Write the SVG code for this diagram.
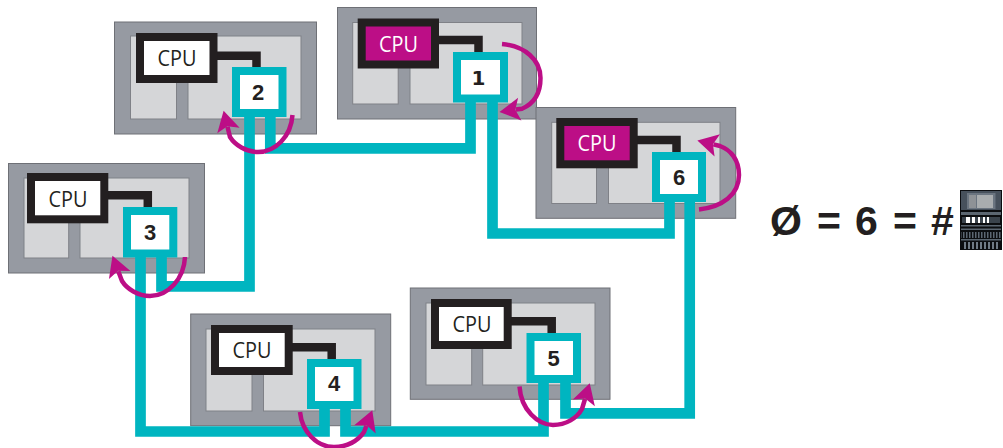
<svg xmlns="http://www.w3.org/2000/svg" width="1003" height="448" viewBox="0 0 1003 448">
<style>
.outer{fill:#969aa2;stroke:#6e7076;stroke-width:1}
.panel{fill:#d5d6d8;stroke:#7f8187;stroke-width:1}
.link{fill:none;stroke:#231f20;stroke-width:8.5;stroke-linejoin:miter}
.cpu{fill:#fff;stroke:#231f20;stroke-width:8}
.cpu.on{fill:#bc0e86}
.port{fill:#fff;stroke:#00b5c0;stroke-width:8}
.lbl{font:21.5px "Open Sans",sans-serif;fill:#231f20;text-anchor:middle}
.lbl.on{fill:#fff}
.num{font:bold 22px "Liberation Sans",Arial,sans-serif;fill:#231f20;text-anchor:middle}
.wire{fill:none;stroke:#00b5c0;stroke-width:10.7;stroke-linejoin:miter}
.arc{fill:none;stroke:#bc0e86;stroke-width:4.5;marker-end:url(#head)}
.eq{font:bold 41px "Liberation Sans",Arial,sans-serif;fill:#231f20}
</style>
<defs>
<marker id="head" markerUnits="userSpaceOnUse" viewBox="-1 -13 24 26" refX="4" refY="0" markerWidth="24" markerHeight="26" orient="auto">
<path d="M0,-11.5 L20.5,0 L0,11.5 L4.5,0 Z" fill="#bc0e86"/>
</marker>
<pattern id="hatch" width="3" height="10" patternUnits="userSpaceOnUse"><rect width="1.5" height="10" fill="#5b6671"/></pattern>
<pattern id="hatch2" width="4" height="10" patternUnits="userSpaceOnUse"><rect width="2" height="10" fill="#6f7a85"/></pattern>
</defs>

<g id="node-1">
<rect class="outer" x="337.5" y="7.5" width="199" height="111.5"/>
<rect class="panel" x="352.7" y="22.5" width="45.5" height="81.5"/>
<rect class="panel" x="410" y="22.5" width="112" height="81.5"/>
<path class="link" d="M435,40 H478.5 V56"/>
<rect class="cpu on" x="361.7" y="22.5" width="73.3" height="42"/>
<text class="lbl on" x="398.5" y="51.5" textLength="39" lengthAdjust="spacingAndGlyphs">CPU</text>
<rect class="port" x="457" y="56" width="47" height="42.5"/>
<text class="num" x="478.5" y="85" style="font-family:'DejaVu Sans',sans-serif;font-size:20px">1</text>
</g>

<g id="node-2">
<rect class="outer" x="114.5" y="22" width="202" height="112"/>
<rect class="panel" x="130.5" y="36" width="46" height="83"/>
<rect class="panel" x="188" y="36" width="113" height="83"/>
<path class="link" d="M213,55.8 H256.5 V71"/>
<rect class="cpu" x="140" y="37" width="73.5" height="42"/>
<text class="lbl" x="177" y="65.5" textLength="39" lengthAdjust="spacingAndGlyphs">CPU</text>
<rect class="port" x="236" y="71" width="46.5" height="42"/>
<text class="num" x="258" y="99.5">2</text>
</g>

<g id="node-3">
<rect class="outer" x="8.5" y="163.5" width="196" height="109.5"/>
<rect class="panel" x="24" y="178" width="44.7" height="80"/>
<rect class="panel" x="80" y="178" width="109" height="80"/>
<path class="link" d="M104,195.2 H147.8 V211"/>
<rect class="cpu" x="31" y="177" width="73.3" height="42.3"/>
<text class="lbl" x="68" y="206.5" textLength="39" lengthAdjust="spacingAndGlyphs">CPU</text>
<rect class="port" x="127" y="211" width="46.3" height="42.5"/>
<text class="num" x="150" y="240">3</text>
</g>

<g id="node-4">
<rect class="outer" x="190.7" y="314" width="200" height="111.7"/>
<rect class="panel" x="206" y="329" width="46" height="82"/>
<rect class="panel" x="263.5" y="329" width="111.5" height="82"/>
<path class="link" d="M288,347.2 H331.7 V363"/>
<rect class="cpu" x="215" y="329" width="73.7" height="42"/>
<text class="lbl" x="252" y="358" textLength="39" lengthAdjust="spacingAndGlyphs">CPU</text>
<rect class="port" x="311" y="363" width="46.5" height="42"/>
<text class="num" x="334" y="391">4</text>
</g>

<g id="node-5">
<rect class="outer" x="410.3" y="288" width="199.7" height="111.3"/>
<rect class="panel" x="426" y="303" width="45.7" height="82"/>
<rect class="panel" x="482.7" y="303" width="112.3" height="82"/>
<path class="link" d="M507,321.2 H551.7 V337"/>
<rect class="cpu" x="435" y="303" width="72.7" height="42"/>
<text class="lbl" x="472" y="331.5" textLength="39" lengthAdjust="spacingAndGlyphs">CPU</text>
<rect class="port" x="530.5" y="337" width="46.5" height="42"/>
<text class="num" x="553.5" y="366">5</text>
</g>

<g id="node-6">
<rect class="outer" x="536" y="107.5" width="199.7" height="110.8"/>
<rect class="panel" x="551.7" y="122.3" width="44.8" height="81.2"/>
<rect class="panel" x="608.5" y="122.3" width="111.5" height="81.2"/>
<path class="link" d="M633,140 H676.5 V156"/>
<rect class="cpu on" x="560.3" y="122" width="73.4" height="42.3"/>
<text class="lbl on" x="597" y="151" textLength="39" lengthAdjust="spacingAndGlyphs">CPU</text>
<rect class="port" x="656" y="156" width="46" height="42"/>
<text class="num" x="679" y="185">6</text>
</g>

<g id="connectors">
<path class="wire" d="M270.3,117 V148.3 H470.5 V102"/>
<path class="wire" d="M249.5,117 V286.3 H161.5 V257"/>
<path class="wire" d="M492.5,102 V233.5 H669.5 V202"/>
<path class="wire" d="M689.7,202 V413.4 H565.5 V383"/>
<path class="wire" d="M140.5,257 V431.5 H324.5 V409"/>
<path class="wire" d="M345.5,409 V431.5 H543.5 V383"/>
<path class="arc" d="M502,44 C525,46 540.5,60 540.5,78 C540.5,95 533,104 522,108.7 L515.8,109.6"/>
<path class="arc" d="M292.5,115 C291,137 275,152 258,152 C246,152 235,145 230,137 L227.5,126.7"/>
<path class="arc" d="M185,257 C184,279 168,296 150,296 C138,296 127,289 122,281 L118.3,271.2"/>
<path class="arc" d="M300,412 C302,432 317,447 334,447 C347,447 358,441 364,432 L366.4,425.7"/>
<path class="arc" d="M519.5,386.5 C521,410 538,425 553,425 C566,425 577,418 582,409 L585,399"/>
<path class="arc" d="M699,209.5 C722,207 739,195 739,175 C739,160 731,150 720,146 L713.4,144.4"/>
</g>

<g id="equation">
<text class="eq" y="235"><tspan x="770">Ø</tspan> <tspan x="817">=</tspan> <tspan x="855">6</tspan> <tspan x="893">=</tspan> <tspan x="931">#</tspan></text>
</g>

<g id="rack">
<rect x="960" y="190" width="42" height="60" fill="#0b0d10"/>
<rect x="961" y="191" width="40" height="19" fill="#47515c"/>
<rect x="967" y="193" width="28.5" height="16" fill="#6b7580"/>
<rect x="969" y="195" width="7" height="13" fill="#8e9296"/>
<rect x="977" y="195" width="16" height="13" fill="#a9adaf"/>
<rect x="961" y="212" width="40" height="3" fill="#5b6671"/>
<rect x="962" y="217" width="38" height="6" fill="#3a434c"/>
<rect x="966" y="217" width="4" height="6" fill="#fff"/>
<rect x="972" y="217" width="3" height="6" fill="#fff"/>
<rect x="978" y="217" width="2" height="6" fill="#fff"/>
<rect x="983" y="217" width="2" height="6" fill="#fff"/>
<rect x="987" y="217" width="2" height="6" fill="#fff"/>
<rect x="961" y="225" width="40" height="1.5" fill="#5b6671"/>
<rect x="961" y="228.5" width="40" height="1.5" fill="#5b6671"/>
<rect x="961" y="232" width="40" height="6" fill="url(#hatch)"/>
<rect x="961" y="239" width="40" height="1.5" fill="#5b6671"/>
<rect x="962" y="242" width="38" height="7" fill="url(#hatch2)"/>
</g>
</svg>
